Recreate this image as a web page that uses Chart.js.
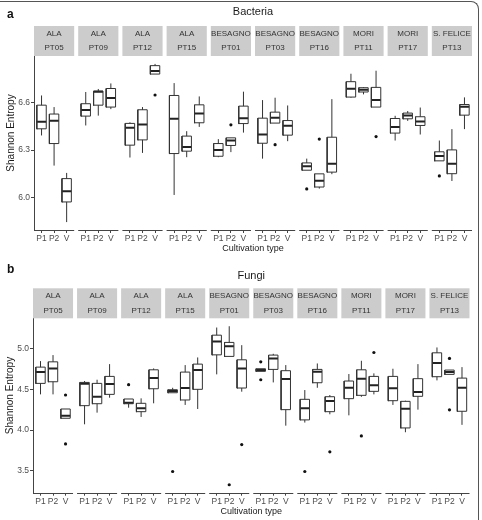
<!DOCTYPE html>
<html>
<head>
<meta charset="utf-8">
<script src="https://cdn.jsdelivr.net/npm/chart.js@4.4.0/dist/chart.umd.min.js"></script>
<style>
  body { margin: 0; background: #fff; }
  #frame { position: relative; width: 482px; height: 520px; overflow: hidden; }
  #frame:after { content: ''; position: absolute; left: -10px; top: 1px; width: 489px; height: 560px;
    box-sizing: border-box; border-top: 1px solid #555; border-right: 1.5px solid #555; border-top-right-radius: 8px; }
  canvas { position: absolute; left: 0; }
</style>
</head>
<body>
<div id="frame">
  <canvas id="chartA" width="482" height="255" style="top:0"></canvas>
  <canvas id="chartB" width="482" height="265" style="top:255px"></canvas>
</div>
<script>
//********************** data ****************************************
var siteNames = ['ALA', 'ALA', 'ALA', 'ALA', 'BESAGNO', 'BESAGNO', 'BESAGNO', 'MORI', 'MORI', 'S. FELICE'];
var plotNames = ['PT05', 'PT09', 'PT12', 'PT15', 'PT01', 'PT03', 'PT16', 'PT11', 'PT17', 'PT13'];
var cultivation = ['P1', 'P2', 'V'];

// one entry per box: P1, P2, V for each plot in the order above
var bacteriaMin    = [6.392, 6.202, 5.846, 6.455, 6.517, 6.558, 6.253, 6.282, 6.779, 6.017, 6.255, 6.446, 6.255, 6.287, 6.410,
                      6.246, 6.470, 6.356, 6.173, 6.057, 6.148, 6.630, 6.651, 6.571, 6.360, 6.484, 6.398, 6.232, 6.105, 6.432];
var bacteriaQ1     = [6.434, 6.341, 5.973, 6.514, 6.583, 6.571, 6.331, 6.364, 6.779, 6.278, 6.293, 6.472, 6.261, 6.329, 6.467,
                      6.343, 6.470, 6.394, 6.173, 6.067, 6.161, 6.634, 6.666, 6.571, 6.407, 6.497, 6.455, 6.232, 6.151, 6.520];
var bacteriaMedian = [6.478, 6.484, 6.040, 6.552, 6.668, 6.628, 6.440, 6.461, 6.798, 6.497, 6.320, 6.531, 6.301, 6.360, 6.501,
                      6.398, 6.503, 6.453, 6.198, 6.107, 6.213, 6.687, 6.680, 6.615, 6.446, 6.518, 6.480, 6.263, 6.213, 6.573];
var bacteriaQ3     = [6.583, 6.527, 6.120, 6.592, 6.672, 6.688, 6.468, 6.554, 6.832, 6.644, 6.388, 6.585, 6.341, 6.377, 6.577,
                      6.501, 6.539, 6.486, 6.219, 6.150, 6.381, 6.731, 6.693, 6.695, 6.499, 6.533, 6.510, 6.289, 6.301, 6.587];
var bacteriaMax    = [6.644, 6.571, 6.156, 6.666, 6.685, 6.720, 6.475, 6.571, 6.843, 6.722, 6.419, 6.638, 6.369, 6.377, 6.668,
                      6.615, 6.630, 6.581, 6.246, 6.150, 6.621, 6.781, 6.697, 6.800, 6.516, 6.546, 6.568, 6.360, 6.432, 6.632];
var bacteriaOutliers = [[8, 6.647], [13, 6.459], [16, 6.334], [18, 6.055], [19, 6.369], [23, 6.385], [27, 6.137]];
var bacteriaTicks = [6.0, 6.3, 6.6];

var fungiMin    = [4.440, 4.440, 4.146, 4.072, 4.215, 4.399, 4.276, 4.162, 4.330, 4.460, 4.310, 4.260, 4.686, 4.907, 4.473,
                   4.723, 4.587, 4.055, 4.093, 4.521, 4.195, 4.182, 4.410, 4.440, 4.310, 3.974, 4.252, 4.612, 4.686, 4.065];
var fungiQ1     = [4.575, 4.595, 4.146, 4.301, 4.325, 4.440, 4.325, 4.227, 4.509, 4.460, 4.371, 4.502, 4.926, 4.907, 4.518,
                   4.723, 4.747, 4.252, 4.126, 4.583, 4.227, 4.387, 4.428, 4.477, 4.362, 4.027, 4.416, 4.657, 4.686, 4.232];
var fungiMedian = [4.714, 4.759, 4.178, 4.571, 4.411, 4.567, 4.338, 4.270, 4.640, 4.481, 4.518, 4.739, 5.090, 5.033, 4.759,
                   4.739, 4.882, 4.628, 4.270, 4.718, 4.358, 4.521, 4.632, 4.551, 4.514, 4.264, 4.469, 4.825, 4.714, 4.521];
var fungiQ3     = [4.775, 4.840, 4.260, 4.587, 4.575, 4.661, 4.383, 4.330, 4.742, 4.497, 4.714, 4.812, 5.168, 5.079, 4.865,
                   4.755, 4.923, 4.731, 4.379, 4.747, 4.411, 4.604, 4.742, 4.661, 4.661, 4.354, 4.633, 4.951, 4.739, 4.640];
var fungiMax    = [4.849, 4.923, 4.260, 4.604, 4.620, 4.812, 4.383, 4.391, 4.759, 4.521, 4.800, 4.894, 5.262, 5.278, 5.045,
                   4.755, 4.939, 4.800, 4.493, 4.820, 4.432, 4.690, 4.853, 4.698, 4.755, 4.362, 4.812, 5.017, 4.739, 4.775];
var fungiOutliers = [[2, 4.432], [2, 3.831], [6, 4.559], [9, 3.491], [13, 3.328], [14, 3.823], [15, 4.840], [15, 4.620],
                     [18, 3.491], [20, 3.733], [22, 3.929], [23, 4.955], [28, 4.882], [28, 4.250]];
var fungiTicks = [3.5, 4.0, 4.5, 5.0];

//********************** layout helpers ******************************
var FACET_WIDTH = 3.2, FACET_GAP = 0.32, BOX_HALF = 0.375;
var FONT = '"Liberation Sans", Arial, sans-serif';

function facetStart(f) { return f * (FACET_WIDTH + FACET_GAP); }
function boxX(i) { return facetStart(Math.floor(i / 3)) + 0.6 + (i % 3); }

function boxDatasets(mins, q1s, meds, q3s, maxs, outliers) {
  var rects = [], medians = [], whiskers = [], dots = [];
  for (var i = 0; i < meds.length; i++) {
    var x = boxX(i), l = x - BOX_HALF, r = x + BOX_HALF;
    whiskers.push({x: x, y: q3s[i]}, {x: x, y: maxs[i]}, {x: x, y: null},
                  {x: x, y: mins[i]}, {x: x, y: q1s[i]}, {x: x, y: null});
    rects.push({x: l, y: q1s[i]}, {x: r, y: q1s[i]}, {x: r, y: q3s[i]},
               {x: l, y: q3s[i]}, {x: l, y: q1s[i]}, {x: l, y: null});
    medians.push({x: l, y: meds[i]}, {x: r, y: meds[i]}, {x: r, y: null});
  }
  outliers.forEach(function(o) { dots.push({x: boxX(o[0]), y: o[1]}); });
  var line = {showLine: true, spanGaps: false, pointRadius: 0, tension: 0, borderColor: '#333', borderWidth: 1};
  return [
    Object.assign({data: whiskers}, line),
    Object.assign({data: rects, borderJoinStyle: 'miter', borderCapStyle: 'square'}, line),
    Object.assign({}, line, {data: medians, borderWidth: 2, borderColor: '#222'}),
    {data: dots, pointRadius: 1.6, backgroundColor: '#111', borderWidth: 0}
  ];
}

var facetPlugin = {
  id: 'facets',
  afterDraw: function(chart, args, opts) {
    var ctx = chart.ctx, area = chart.chartArea, xs = chart.scales.x;
    ctx.save();
    for (var f = 0; f < siteNames.length; f++) {
      var x0 = xs.getPixelForValue(facetStart(f));
      var x1 = xs.getPixelForValue(facetStart(f) + FACET_WIDTH);
      // strip
      ctx.fillStyle = '#cccccc';
      ctx.fillRect(x0, area.top - 30, x1 - x0, 30);
      ctx.fillStyle = '#333';
      ctx.font = '8px ' + FONT;
      ctx.textAlign = 'center';
      ctx.textBaseline = 'middle';
      ctx.fillText(siteNames[f], (x0 + x1) / 2, area.top - 22.5);
      ctx.fillText(plotNames[f], (x0 + x1) / 2, area.top - 7.8);
      // bottom axis line of each facet
      ctx.strokeStyle = '#444';
      ctx.lineWidth = 1;
      ctx.beginPath();
      ctx.moveTo(x0, Math.round(area.bottom) + 0.5);
      ctx.lineTo(x1, Math.round(area.bottom) + 0.5);
      ctx.stroke();
    }
    // y title
    ctx.fillStyle = '#1a1a1a';
    ctx.font = '10px ' + FONT;
    ctx.translate(opts.yTitleX, (area.top - 30 + area.bottom) / 2 + 5);
    ctx.rotate(-Math.PI / 2);
    ctx.fillText('Shannon Entropy', 0, 0);
    ctx.restore();
    // panel letter
    ctx.save();
    ctx.fillStyle = '#111';
    ctx.font = 'bold 12px ' + FONT;
    ctx.textAlign = 'left';
    ctx.textBaseline = 'alphabetic';
    ctx.fillText(opts.letter, 7, opts.letterY);
    ctx.restore();
  }
};

function drawPanel(id, title, mins, q1s, meds, q3s, maxs, outliers, yTicks, lay) {
  var all = mins.concat(maxs, outliers.map(function(o) { return o[1]; }));
  var lo = Math.min.apply(null, all), hi = Math.max.apply(null, all), pad = (hi - lo) * 0.05;
  var xTicks = meds.map(function(m, i) { return boxX(i); });

  return new Chart(document.getElementById(id), {
    type: 'scatter',
    data: {datasets: boxDatasets(mins, q1s, meds, q3s, maxs, outliers)},
    plugins: [facetPlugin],
    options: {
      responsive: false,
      animation: false,
      devicePixelRatio: 1,
      layout: {padding: {left: 0, right: lay.right, top: 0, bottom: 0}},
      plugins: {
        legend: {display: false},
        tooltip: {enabled: false},
        title: {display: true, text: title, fullSize: false, color: '#1a1a1a',
                font: {family: FONT, size: 11, weight: 'normal'},
                padding: {top: lay.titleTop, bottom: lay.titleBottom}},
        facets: {letter: lay.letter, letterY: lay.letterY, yTitleX: lay.yTitleX}
      },
      scales: {
        x: {
          type: 'linear',
          min: 0,
          max: facetStart(siteNames.length - 1) + FACET_WIDTH,
          afterBuildTicks: function(axis) { axis.ticks = xTicks.map(function(v) { return {value: v}; }); },
          afterFit: function(axis) { axis.height = lay.xHeight; },
          grid: {drawOnChartArea: false, drawTicks: true, tickLength: 3, color: '#444'},
          border: {display: false},
          ticks: {autoSkip: false, maxRotation: 0, minRotation: 0, padding: 1, color: '#4d4d4d',
                  font: {family: FONT, size: 8.5},
                  callback: function(v, i) { return cultivation[i % 3]; }},
          title: {display: true, text: 'Cultivation type', color: '#1a1a1a',
                  font: {family: FONT, size: 9}, padding: {top: 0, bottom: lay.xTitlePad}}
        },
        y: {
          min: lo - pad,
          max: hi + pad,
          afterBuildTicks: function(axis) { axis.ticks = yTicks.map(function(v) { return {value: v}; }); },
          afterFit: function(axis) { axis.width = lay.yWidth; },
          grid: {drawOnChartArea: false, drawTicks: true, tickLength: 3, color: '#444'},
          border: {display: true, color: '#444', width: 1},
          ticks: {padding: 1, color: '#4d4d4d', font: {family: FONT, size: 8.5},
                  callback: function(v) { return v.toFixed(1); }}
        }
      }
    }
  });
}

drawPanel('chartA', 'Bacteria', bacteriaMin, bacteriaQ1, bacteriaMedian, bacteriaQ3, bacteriaMax,
  bacteriaOutliers, bacteriaTicks,
  {right: 10, titleTop: 5.7, titleBottom: 37.1, xHeight: 25, xTitlePad: 0.6, yWidth: 34,
   letter: 'a', letterY: 18, yTitleX: 11});

drawPanel('chartB', 'Fungi', fungiMin, fungiQ1, fungiMedian, fungiQ3, fungiMax,
  fungiOutliers, fungiTicks,
  {right: 12.5, titleTop: 14.4, titleBottom: 35.7, xHeight: 27.3, xTitlePad: 2.9, yWidth: 33,
   letter: 'b', letterY: 17.5, yTitleX: 10});
</script>
</body>
</html>
